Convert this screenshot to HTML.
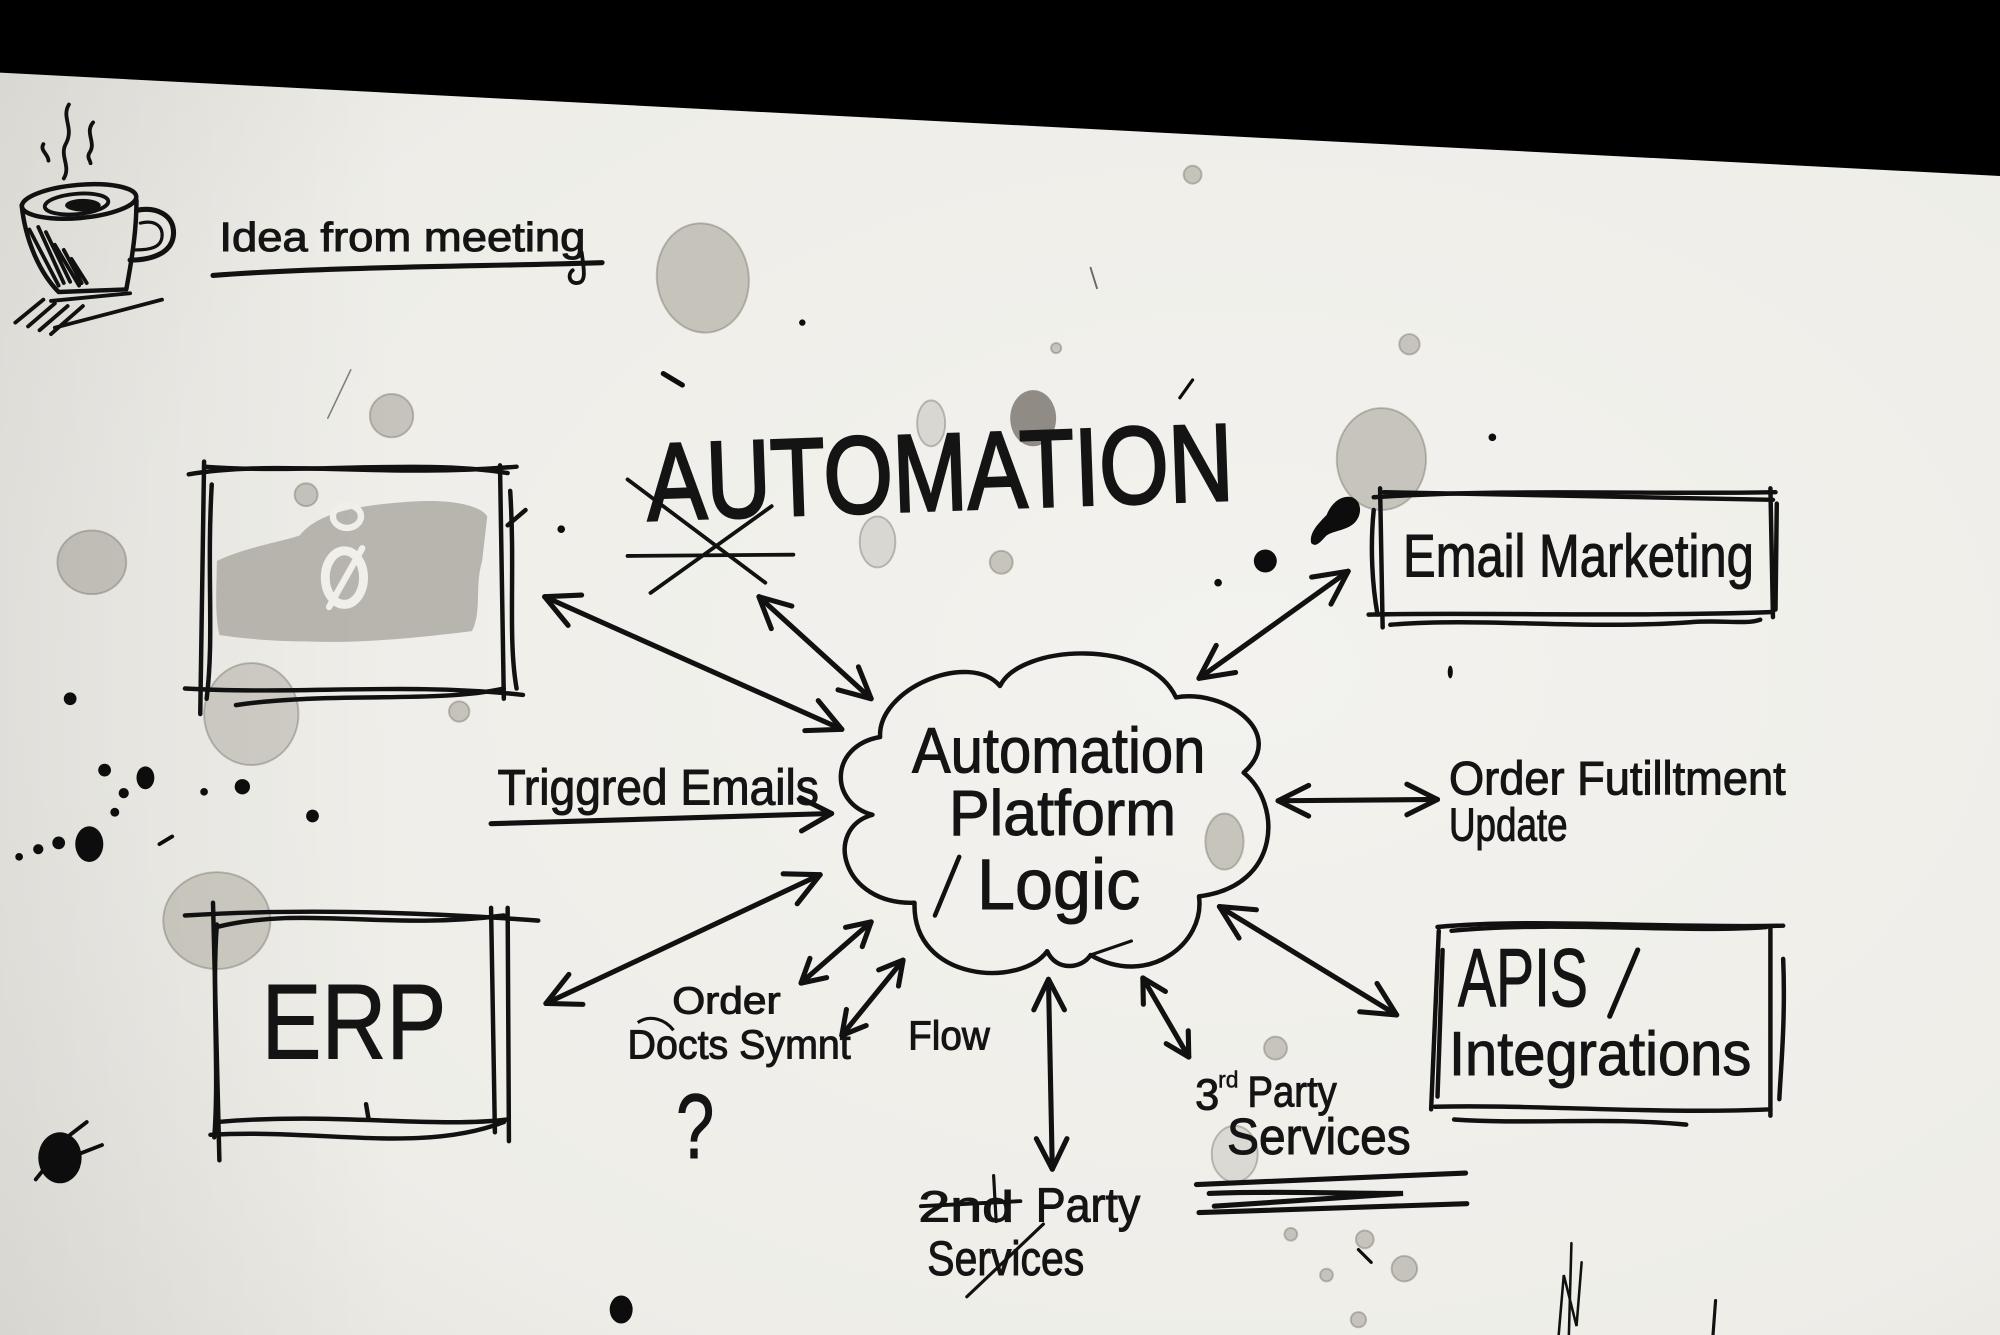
<!DOCTYPE html>
<html><head><meta charset="utf-8">
<style>
html,body{margin:0;padding:0;background:#000;}
svg{display:block;}
text{font-family:"Liberation Sans",sans-serif;fill:#141414;stroke:#141414;stroke-width:0.8;}
</style></head><body>
<svg width="2000" height="1335" viewBox="0 0 1568 1047" preserveAspectRatio="none" xmlns="http://www.w3.org/2000/svg">
<defs>
<radialGradient id="pg" cx="0.62" cy="0.5" r="0.8">
<stop offset="0" stop-color="#f3f2ee"/>
<stop offset="0.7" stop-color="#eeede8"/>
<stop offset="1" stop-color="#e3e1db"/>
</radialGradient>
<linearGradient id="lg" x1="0" y1="0" x2="1" y2="0">
<stop offset="0" stop-color="#000" stop-opacity="0.05"/>
<stop offset="0.2" stop-color="#000" stop-opacity="0"/>
</linearGradient>
</defs>
<rect width="1568" height="1047" fill="url(#pg)"/>
<rect width="1568" height="1047" fill="url(#lg)"/>
<polygon points="0,0 1568,0 1568,138 0,57" fill="#000"/>

<!-- stains -->
<g fill="#928d82" fill-opacity="0.45" stroke="#6e6a60" stroke-opacity="0.4" stroke-width="1.5">
<ellipse cx="551" cy="218" rx="36" ry="43" transform="rotate(-8 551 218)"/>
<circle cx="307" cy="326" r="17"/>
<ellipse cx="72" cy="441" rx="27" ry="25"/>
<ellipse cx="730" cy="332" rx="11" ry="18" fill-opacity="0.25"/>
<ellipse cx="1083" cy="360" rx="35" ry="40"/>
<circle cx="1105" cy="270" r="8"/>
<circle cx="935" cy="137" r="7"/>
<circle cx="828" cy="273" r="4"/>
<circle cx="785" cy="441" r="9"/>
<ellipse cx="197" cy="560" rx="37" ry="40" fill-opacity="0.35"/>
<ellipse cx="170" cy="722" rx="42" ry="38" fill-opacity="0.38"/>
<ellipse cx="688" cy="425" rx="14" ry="20" fill-opacity="0.25"/>
<ellipse cx="960" cy="660" rx="15" ry="22"/>
<circle cx="1000" cy="822" r="9"/>
<ellipse cx="968" cy="905" rx="18" ry="22" fill-opacity="0.22"/>
<circle cx="1012" cy="968" r="5"/>
<circle cx="1070" cy="972" r="7"/>
<circle cx="1101" cy="995" r="10"/>
<circle cx="1065" cy="1035" r="6"/>
<circle cx="1040" cy="1000" r="5"/>
<circle cx="240" cy="388" r="9"/>
<circle cx="360" cy="558" r="8"/>
</g>
<ellipse cx="810" cy="328" rx="18" ry="22" fill="#6f6b63" fill-opacity="0.75"/>

<!-- ink blots -->
<g fill="#0d0d0d">
<circle cx="55" cy="548" r="5"/>
<ellipse cx="114" cy="610" rx="7" ry="9"/>
<circle cx="82" cy="604" r="5"/>
<circle cx="97" cy="622" r="4"/>
<circle cx="90" cy="637" r="3.5"/>
<ellipse cx="70" cy="662" rx="11" ry="14"/>
<circle cx="46" cy="661" r="5"/>
<circle cx="30" cy="666" r="4"/>
<circle cx="15" cy="672" r="3"/>
<circle cx="190" cy="617" r="6"/>
<circle cx="160" cy="621" r="3"/>
<circle cx="245" cy="640" r="5"/>
<ellipse cx="47" cy="908" rx="17" ry="20"/>
<ellipse cx="487" cy="1027" rx="9" ry="11"/>
<circle cx="992" cy="440" r="9"/>
<path d="M1028,426 C1026,418 1034,410 1040,404 C1044,394 1052,388 1060,390 C1068,393 1068,404 1062,410 C1056,416 1046,416 1040,420 C1036,424 1032,430 1028,426 Z"/>
<circle cx="1170" cy="343" r="3"/>
<ellipse cx="1137" cy="527" rx="2" ry="5"/>
<circle cx="629" cy="253" r="2.5"/>
<circle cx="955" cy="457" r="3"/>
<circle cx="440" cy="415" r="3"/>
</g>
<g stroke="#0d0d0d" stroke-linecap="round" fill="none">
<path d="M55,890 L68,880 M62,905 L80,898 M36,915 L28,925" stroke-width="3"/>
<path d="M520,293 L535,302" stroke-width="4"/>
<path d="M925,312 L935,298" stroke-width="2.5"/>
<path d="M125,662 L135,656" stroke-width="3"/>
<path d="M855,210 L860,226" stroke-width="1.5" stroke-opacity="0.6"/>
<path d="M275,290 L257,328" stroke-width="1.2" stroke-opacity="0.5"/>
<path d="M1065,980 L1075,990" stroke-width="2.5"/>
</g>

<!-- coffee cup -->
<g stroke="#111" stroke-width="3" fill="none" stroke-linecap="round" stroke-linejoin="round">
<path d="M54,82 C48,92 58,100 52,112 C46,122 56,130 50,140"/>
<path d="M34,113 C31,118 38,121 38,126"/>
<path d="M73,96 C66,104 76,112 70,120 C68,124 71,126 71,128"/>
<ellipse cx="62" cy="158" rx="45" ry="13" transform="rotate(-5 62 158)" stroke-width="3.5"/>
<ellipse cx="60" cy="160" rx="25" ry="8" transform="rotate(-5 60 160)"/>
<path d="M17,161 C20,190 32,215 46,229 L99,227 C104,200 107,180 107,157" stroke-width="3.5"/>
<path d="M107,165 C122,162 137,168 136,184 C135,198 120,204 102,204" stroke-width="4"/>
<path d="M110,175 C122,172 128,178 127,186 C126,194 118,196 106,196" stroke-width="2.5"/>
<path d="M23,180 L46,224 M30,178 L50,222 M36,182 L55,221 M43,192 L62,224 M50,196 L64,222 M56,203 L68,222"/>
<path d="M12,253 L34,235 M22,256 L43,238 M31,259 L53,240 M40,262 L65,240 M43,257 L127,235" />
<path d="M40,236 C60,234 80,232 102,230"/>
</g>
<ellipse cx="65" cy="161" rx="14" ry="5" fill="#111"/>

<!-- Idea from meeting -->
<text x="172" y="197" font-size="32" textLength="287" lengthAdjust="spacingAndGlyphs">Idea from meeting</text>
<path d="M167,216 C260,209 380,209 472,206" stroke="#111" stroke-width="4" fill="none" stroke-linecap="round"/>
<path d="M456,198 C458,212 460,222 452,222 C446,222 445,215 449,212" stroke="#111" stroke-width="3" fill="none" stroke-linecap="round"/>

<!-- top-left box smudge -->
<path d="M170,440 C190,430 220,425 235,420 C250,400 290,395 330,393 C360,392 378,398 382,405 L378,440 C372,460 378,480 370,495 C330,500 280,505 240,503 C210,503 185,500 172,498 C168,480 170,460 170,440 Z" fill="#a9a69f" fill-opacity="0.8"/>
<g stroke="#f0efea" fill="none" stroke-linecap="round">
<ellipse cx="270" cy="453" rx="15" ry="21" stroke-width="7"/>
<path d="M258,476 L284,430" stroke-width="5"/>
<ellipse cx="272" cy="405" rx="11" ry="9" stroke-width="5"/>
</g>

<!-- top-left box -->
<g stroke="#111" stroke-width="3.5" fill="none" stroke-linecap="round">
<path d="M148,372 C220,360 300,375 405,366"/>
<path d="M160,366 C240,372 330,360 398,371"/>
<path d="M160,362 L157,560"/>
<path d="M166,380 C162,450 168,500 162,548"/>
<path d="M392,365 L395,548"/>
<path d="M400,385 C404,450 398,500 405,540"/>
<path d="M145,540 C230,545 320,535 410,545"/>
<path d="M185,553 C260,542 340,552 395,540"/>
<path d="M398,412 L412,400"/>
</g>

<!-- AUTOMATION -->
<text x="508" y="408" font-size="86" textLength="460" lengthAdjust="spacingAndGlyphs" style="stroke-width:2.2" transform="rotate(-2 508 408)">AUTOMATION</text>
<g stroke="#111" stroke-width="3" fill="none" stroke-linecap="round">
<path d="M492,376 L600,457"/>
<path d="M510,465 L605,397"/>
<path d="M492,436 L622,435"/>
</g>

<!-- Email Marketing box -->
<g stroke="#111" stroke-width="3.5" fill="none" stroke-linecap="round">
<path d="M1077,390 C1180,383 1290,388 1392,386"/>
<path d="M1085,386 L1390,392"/>
<path d="M1082,383 L1084,492"/>
<path d="M1077,400 C1074,430 1076,460 1080,482"/>
<path d="M1388,383 L1390,484"/>
<path d="M1393,395 L1392,478"/>
<path d="M1073,482 C1150,480 1280,484 1390,480"/>
<path d="M1090,490 C1160,484 1240,494 1325,488 C1350,486 1370,490 1380,486"/>
</g>
<text x="1100" y="452" font-size="47" textLength="275" lengthAdjust="spacingAndGlyphs">Email Marketing</text>

<!-- cloud -->
<path d="M690,578 C688,540 760,510 784,538 C800,505 900,500 922,547 C960,540 1010,575 975,606 C1005,630 1005,695 940,703 C945,740 900,775 855,749 C848,760 828,762 821,746 C800,775 715,770 717,708 C660,710 645,650 684,639 C650,630 650,585 690,578 Z" stroke="#111" stroke-width="3.5" fill="none" stroke-linejoin="round"/>
<path d="M855,749 L887,738" stroke="#111" stroke-width="2.5" stroke-linecap="round"/>
<text x="715" y="606" font-size="50" textLength="230" lengthAdjust="spacingAndGlyphs">Automation</text>
<text x="744" y="655" font-size="50" textLength="178" lengthAdjust="spacingAndGlyphs">Platform</text>
<text x="766" y="713" font-size="56" textLength="128" lengthAdjust="spacingAndGlyphs">Logic</text>
<path d="M733,718 L752,672" stroke="#111" stroke-width="3.5" stroke-linecap="round"/>

<!-- Order fulfillment -->
<text x="1136" y="623" font-size="37" textLength="264" lengthAdjust="spacingAndGlyphs">Order Futilltment</text>
<text x="1136" y="659" font-size="36" textLength="93" lengthAdjust="spacingAndGlyphs">Update</text>

<!-- APIS box -->
<g stroke="#111" stroke-width="3.5" fill="none" stroke-linecap="round">
<path d="M1127,727 C1200,720 1300,728 1398,726"/>
<path d="M1138,730 C1220,722 1320,732 1385,727"/>
<path d="M1128,730 L1122,870"/>
<path d="M1131,745 L1127,860"/>
<path d="M1388,728 L1388,875"/>
<path d="M1398,752 C1400,800 1396,840 1395,862"/>
<path d="M1125,868 C1200,866 1300,874 1388,870"/>
<path d="M1140,878 C1200,882 1260,876 1322,882"/>
<path d="M1262,797 L1284,745" stroke-width="4"/>
</g>
<text x="1143" y="789" font-size="65" textLength="102" lengthAdjust="spacingAndGlyphs">APIS</text>
<text x="1136" y="843" font-size="49" textLength="237" lengthAdjust="spacingAndGlyphs">Integrations</text>

<!-- ERP box -->
<g stroke="#111" stroke-width="3.5" fill="none" stroke-linecap="round">
<path d="M145,718 C240,712 340,716 422,722"/>
<path d="M170,727 C240,710 300,730 395,718"/>
<path d="M167,708 L172,910"/>
<path d="M170,725 C166,780 172,840 168,892"/>
<path d="M385,712 L388,888"/>
<path d="M398,712 L399,895"/>
<path d="M170,880 C260,872 340,885 398,878"/>
<path d="M165,890 C250,885 330,905 395,880"/>
<path d="M287,866 L289,878"/>
</g>
<text x="205" y="830" font-size="84" textLength="145" lengthAdjust="spacingAndGlyphs">ERP</text>

<!-- labels -->
<text x="390" y="631" font-size="39" textLength="252" lengthAdjust="spacingAndGlyphs">Triggred Emails</text>
<text x="527" y="795" font-size="30" textLength="85" lengthAdjust="spacingAndGlyphs">Order</text>
<text x="492" y="830" font-size="32" textLength="175" lengthAdjust="spacingAndGlyphs">Docts Symnt</text>
<path d="M500,802 C510,795 522,800 528,808" stroke="#111" stroke-width="2.5" fill="none"/>
<text x="530" y="908" font-size="72" textLength="30" lengthAdjust="spacingAndGlyphs">?</text>
<text x="712" y="823" font-size="32" textLength="64" lengthAdjust="spacingAndGlyphs">Flow</text>
<text x="937" y="870" font-size="34">3</text>
<text x="955" y="853" font-size="18" style="stroke-width:0.4">rd</text>
<text x="978" y="868" font-size="34" textLength="70" lengthAdjust="spacingAndGlyphs">Party</text>
<text x="962" y="905" font-size="40" textLength="144" lengthAdjust="spacingAndGlyphs">Services</text>
<text x="720" y="958" font-size="34" textLength="75" lengthAdjust="spacingAndGlyphs">2nd</text>
<text x="812" y="958" font-size="38" textLength="82" lengthAdjust="spacingAndGlyphs">Party</text>
<text x="727" y="1000" font-size="38" textLength="123" lengthAdjust="spacingAndGlyphs">Services</text>
<g stroke="#111" fill="none" stroke-linecap="round">
<path d="M722,946 L800,942" stroke-width="3"/>
<path d="M779,922 L781,958" stroke-width="2.5"/>
<path d="M818,960 L758,1017" stroke-width="2.5"/>
<path d="M938,929 L1149,920" stroke-width="4"/>
<path d="M940,951 L1150,944" stroke-width="4"/>
<path d="M948,936 C1000,934 1050,936 1100,936 L952,946" stroke-width="4"/>
</g>

<!-- arrows -->
<g stroke="#111" stroke-width="4" fill="none" stroke-linecap="round" stroke-linejoin="round">
<path d="M427,468 L660,572"/>
<path d="M631,573 L660,572 L641.5,549.5"/>
<path d="M445.4,490.5 L427,468 L456,466.7"/>

<path d="M595,468 L683,548"/>
<path d="M657,541 L683,548 L673,523"/>
<path d="M604.7,493 L595,468 L620.8,475.3"/>

<path d="M940,532 L1057,448"/>
<path d="M1043.5,473.8 L1057,448 L1028.3,452.6"/>
<path d="M968.7,527.4 L940,532 L953.5,506.2"/>

<path d="M385,646 C480,643 560,641 652,638"/>
<path d="M628.4,651.7 L652,638 L627.6,625.7"/>

<path d="M1002,628 L1127,627"/>
<path d="M1103,639 L1127,627 L1103,615"/>
<path d="M1026,640 L1002,628 L1026,616"/>

<path d="M428,787 L643,686"/>
<path d="M625,708.8 L643,686 L614,685.3"/>
<path d="M457,787.7 L428,787 L446,764.2"/>

<path d="M628,771 L683,723"/>
<path d="M676,742.4 L683,723 L662.9,727.3"/>
<path d="M648.1,766.7 L628,771 L635,751.6"/>

<path d="M660,812 L708,753"/>
<path d="M704.4,773.3 L708,753 L688.9,760.7"/>
<path d="M679.1,804.3 L660,812 L663.6,791.7"/>

<path d="M822,768 L825,917"/>
<path d="M810.5,792 L822,768 L834.5,792"/>
<path d="M812.5,893 L825,917 L836.5,893"/>

<path d="M896,767 L932,829"/>
<path d="M896.4,787.6 L896,767 L913.7,777.6"/>
<path d="M914.3,818.5 L932,829 L931.6,808.4"/>

<path d="M956,711 L1095,796"/>
<path d="M971.4,735.7 L956,711 L985,713.5"/>
<path d="M1066,793.5 L1095,796 L1079.6,771.3"/>
</g>

<!-- bottom right scribble -->
<g stroke="#111" stroke-width="2" fill="none" stroke-linecap="round">
<path d="M1232,975 L1230,1047"/>
<path d="M1222,1047 L1226,1000 L1236,1040 L1240,990"/>
<path d="M1345,1020 L1343,1047" stroke-width="2.5"/>
</g>
</svg>
</body></html>
